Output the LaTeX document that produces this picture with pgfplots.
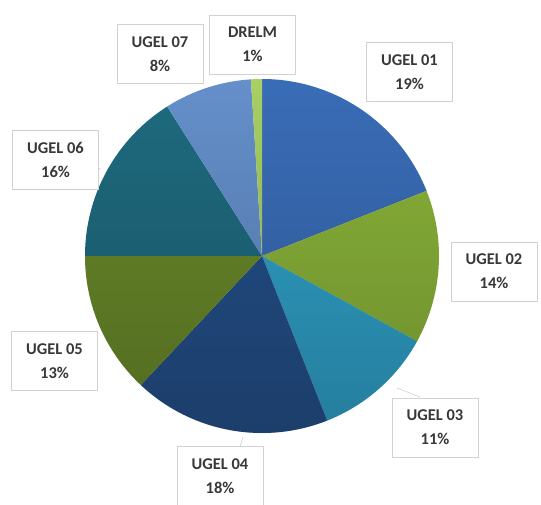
\documentclass[border=0pt]{standalone}
\usepackage{pgfplots}
\pgfplotsset{compat=1.18}
\usepackage{pgfplotstable}
\usetikzlibrary{fadings}
\usepackage{fontspec}
\setmainfont{Carlito}

\definecolor{c0}{HTML}{3A6DB8}
\definecolor{c1}{HTML}{8BB43A}
\definecolor{c2}{HTML}{30A2CA}
\definecolor{c3}{HTML}{24508A}
\definecolor{c4}{HTML}{6A8A2A}
\definecolor{c5}{HTML}{1F6B80}
\definecolor{c6}{HTML}{6590CB}
\definecolor{c7}{HTML}{A8D063}
\definecolor{txt}{HTML}{383838}

% name, share (%), label box centre (x,y) in picture units
\pgfplotstableread[col sep=comma]{
name,value,lx,ly
UGEL 01,19,409.5,433
UGEL 02,14,494,233.5
UGEL 03,11,435,77.5
UGEL 04,18,220,29
UGEL 05,13,54.5,144
UGEL 06,16,55.5,345
UGEL 07,8,160,451
DRELM,1,252.5,460.5
}\piedata

\begin{document}
\begin{tikzpicture}
\def\cum{90}
\pgfplotsforeachungrouped \i in {0,...,7}{%
  \pgfplotstablegetelem{\i}{value}\of\piedata
  \expandafter\xdef\csname pv\i\endcsname{\pgfplotsretval}%
  \pgfmathsetmacro\sa{\cum}%
  \pgfmathsetmacro\ea{\cum-3.6*\pgfplotsretval}%
  \expandafter\xdef\csname sa\i\endcsname{\sa}%
  \expandafter\xdef\csname ea\i\endcsname{\ea}%
  \xdef\cum{\ea}%
  \pgfplotstablegetelem{\i}{name}\of\piedata
  \expandafter\xdef\csname nm\i\endcsname{\pgfplotsretval}%
  \pgfplotstablegetelem{\i}{lx}\of\piedata
  \expandafter\xdef\csname lx\i\endcsname{\pgfplotsretval}%
  \pgfplotstablegetelem{\i}{ly}\of\piedata
  \expandafter\xdef\csname ly\i\endcsname{\pgfplotsretval}%
}
\begin{axis}[
  x=1bp, y=1bp, scale only axis,
  xmin=0, xmax=541, ymin=0, ymax=505,
  hide axis, clip=false,
]
\pgfplotsinvokeforeach{0,...,7}{
  \fill[c#1] (axis cs:262,249) -- ([shift={(\csname sa#1\endcsname:177bp)}]axis cs:262,249)
    arc[start angle=\csname sa#1\endcsname, end angle=\csname ea#1\endcsname, radius=177bp] -- cycle;
}
\fill[black, path fading=north, fill opacity=0.22] (axis cs:262,249) circle[radius=177bp];
% leader lines
\draw[black!25] (axis cs:368,403) -- (axis cs:385,405);
\draw[black!25] (axis cs:397,117) -- (axis cs:420,108);
\draw[black!25] (axis cs:243,68) -- (axis cs:240,58);
\draw[black!25] (axis cs:100,337) -- (axis cs:93,330);
\pgfplotsinvokeforeach{0,...,7}{
  \node[draw=black!18, fill=white, text=txt, align=center,
        font=\bfseries\fontsize{16.5}{24}\selectfont,
        minimum width=86bp, minimum height=59bp, inner sep=2bp]
    at (axis cs:\csname lx#1\endcsname,\csname ly#1\endcsname)
    {\csname nm#1\endcsname\\\csname pv#1\endcsname\%};
}
\end{axis}
\pgfresetboundingbox
\useasboundingbox (0,0) rectangle (541bp,505bp);
\end{tikzpicture}
\end{document}
